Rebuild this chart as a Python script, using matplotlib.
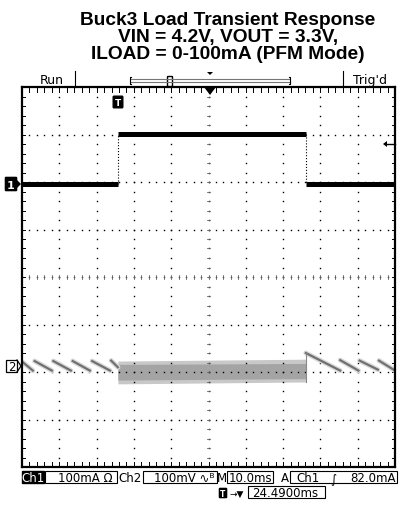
import matplotlib.pyplot as plt
from matplotlib.patches import FancyBboxPatch, Rectangle, Polygon

# ---- data read from the scope shot ----
# time axis: 10 ms/div, 10 divisions
ch1_edge_ms = [0, 25.7, 76.1, 100]
ch1_level_ma = [0, 105, 0]
ch1_ref_div = 1.96          # Ch1 ground marker (div above centre), 100 mA/div

ch2_ref_div = -1.87         # Ch2 marker, 100 mV/div, AC coupled
# sawtooth ramps of Ch2 (light load, PFM pulses)
ramp_t0 = [0.3, 3.4, 8.4, 13.6, 18.8, 23.9, 76.1, 85.3, 90.5, 95.7]
ramp_t1 = [2.9, 8.0, 13.1, 18.2, 23.6, 25.7, 85.3, 90.2, 95.4, 100]
ramp_v0 = [7, 10, 10, 10, 10, 11, 27, 12, 11, 11]
ramp_v1 = [-10, -10, -10, -10, -10, -3, -10, -10, -8, -10]
# ripple band while loaded (mV)
band_t = [25.7, 76.1]
band_hi = [10, 14]
band_lo = [-38, -34]
core_hi = [3, 5]
core_lo = [-30, -27]

title_lines = ["Buck3 Load Transient Response",
               "VIN = 4.2V, VOUT = 3.3V,",
               "ILOAD = 0-100mA (PFM Mode)"]

fig = plt.figure(figsize=(3.99, 5.06), dpi=100)
ax = fig.add_axes([22/399, (506-468)/506, 373/399, 380/506])
ax.set_xlim(0, 100)
ax.set_ylim(-4, 4)
ax.set_xticks([])
ax.set_yticks([])
for s in ax.spines.values():
    s.set_linewidth(1.6)

# graticule dots
minor_x = [i*2 for i in range(51)]
minor_y = [-4 + i*0.2 for i in range(41)]
for gx in range(10, 100, 10):
    ax.plot([gx]*len(minor_y), minor_y, ls="none", marker="s", ms=1.0, color="black", mew=0)
for gy in range(-3, 4):
    ax.plot(minor_x, [gy]*len(minor_x), ls="none", marker="s", ms=1.0, color="black", mew=0)
# centre cross ticks and border ticks
for mx in minor_x:
    ax.plot([mx, mx], [-0.05, 0.05], color="#666666", lw=0.6)
    ax.plot([mx, mx], [4, 3.9], color="black", lw=0.7)
    ax.plot([mx, mx], [-4, -3.9], color="black", lw=0.7)
for my in minor_y:
    ax.plot([49.7, 50.3], [my, my], color="#666666", lw=0.6)
    ax.plot([0, 0.9], [my, my], color="black", lw=0.7)
    ax.plot([99.1, 100], [my, my], color="black", lw=0.7)

# Ch1 : load current
for i in range(len(ch1_level_ma)):
    y = ch1_ref_div + ch1_level_ma[i]/100
    ax.plot([ch1_edge_ms[i], ch1_edge_ms[i+1]], [y, y], color="black", lw=3.6, solid_capstyle="butt")
for i in range(1, len(ch1_edge_ms)-1):
    ax.plot([ch1_edge_ms[i]]*2, [ch1_ref_div + ch1_level_ma[i-1]/100, ch1_ref_div + ch1_level_ma[i]/100],
            color="black", lw=0.8, ls=":")

# Ch2 : output voltage ripple
def v2y(v):
    return ch2_ref_div + v/100

ax.fill_between(band_t, [v2y(v) for v in band_lo], [v2y(v) for v in band_hi], color="#c8c8c8", lw=0)
ax.fill_between(band_t, [v2y(v) for v in core_lo], [v2y(v) for v in core_hi], color="#a4a4a4", lw=0)
for t0, t1, v0, v1 in zip(ramp_t0, ramp_t1, ramp_v0, ramp_v1):
    ax.plot([t0, t1], [v2y(v0), v2y(v1)], color="#dadada", lw=3.6, solid_capstyle="round")
for t0, t1, v0, v1 in zip(ramp_t0, ramp_t1, ramp_v0, ramp_v1):
    ax.plot([t0, t1], [v2y(v0), v2y(v1)], color="#707070", lw=1.6)
ax.plot([band_t[1]]*2, [v2y(band_lo[1]), v2y(ramp_v0[6])], color="#888888", lw=0.8)

# ---- overlay in pixel coordinates for scope annotations ----
ov = fig.add_axes([0, 0, 1, 1])
ov.set_xlim(0, 399)
ov.set_ylim(506, 0)
ov.axis("off")

for i, line in enumerate(title_lines):
    ov.text(228, 25 + i*17, line, ha="center", va="baseline", fontsize=13.8,
            fontweight="bold", family=["Liberation Sans", "DejaVu Sans"])

scope_font = ["Liberation Sans Narrow", "DejaVu Sans"]
ov.text(52, 84, "Run", ha="center", va="baseline", fontsize=9, family=scope_font)
ov.text(370, 84, "Trig'd", ha="center", va="baseline", fontsize=9, family=scope_font)
ov.plot([75, 75], [72, 88], color="black", lw=0.8)
ov.plot([343, 343], [72, 88], color="black", lw=0.8)
# record-length bracket
ov.plot([130, 290], [80, 80], color="#777777", lw=0.8)
ov.plot([130, 290], [83, 83], color="#777777", lw=0.8)
ov.plot([131, 130, 130, 131], [78, 78, 85, 85], color="black", lw=0.8)
ov.plot([289, 290, 290, 289], [78, 78, 85, 85], color="black", lw=0.8)
ov.add_patch(FancyBboxPatch((168, 78), 4, 9, boxstyle="round,pad=0.5", fc="white", ec="black", lw=1))
ov.add_patch(Polygon([[207, 73], [213, 73], [210, 76]], closed=True, fc="black", ec="none"))
# trigger position marker on top of screen
ov.add_patch(Polygon([[204, 88], [216, 88], [210, 96]], closed=True, fc="black", ec="none"))
# trigger T marker
ov.add_patch(FancyBboxPatch((114, 98), 8, 10, boxstyle="round,pad=0.8", fc="black", ec="black"))
ov.text(118, 103.5, "T", color="white", ha="center", va="center", fontsize=6.5, fontweight="bold")
# trigger level arrow on right
ov.plot([387, 395], [145, 145], color="black", lw=1)
ov.add_patch(Polygon([[387, 142], [387, 148], [383, 145]], closed=True, fc="black", ec="none"))

# channel reference markers
ov.add_patch(FancyBboxPatch((6, 179), 10, 12, boxstyle="round,pad=0.6", fc="black", ec="black"))
ov.add_patch(Polygon([[16, 180], [21, 185], [16, 190]], closed=True, fc="black", ec="none"))
ov.text(11, 185.5, "1", color="white", ha="center", va="center", fontsize=8, fontweight="bold")
ov.add_patch(Rectangle((6, 361), 11, 12, fc="white", ec="black", lw=0.9))
ov.plot([17, 21, 17], [361, 367, 373], color="black", lw=0.9)
ov.text(11.5, 367.5, "2", color="black", ha="center", va="center", fontsize=8.5, family=scope_font)

# status bar
fs = 8.5
ov.add_patch(Rectangle((22, 472), 22, 12, fc="black", ec="black"))
ov.text(33, 482, "Ch1", color="white", ha="center", va="baseline", fontsize=fs, family=scope_font)
ov.add_patch(Rectangle((45, 472), 72, 12, fc="none", ec="black", lw=0.8))
ov.text(113, 482, "100mA \u03a9", ha="right", va="baseline", fontsize=fs, family=scope_font)
ov.text(130, 482, "Ch2", ha="center", va="baseline", fontsize=fs, family=scope_font)
ov.add_patch(Rectangle((143, 472), 74, 12, fc="none", ec="black", lw=0.8))
ov.text(215, 482, "100mV \u223f\u1d2e", ha="right", va="baseline", fontsize=fs, family=scope_font)
ov.text(222, 482, "M", ha="center", va="baseline", fontsize=fs, family=scope_font)
ov.add_patch(Rectangle((227, 472), 46, 12, fc="none", ec="black", lw=0.8))
ov.text(250, 482, "10.0ms", ha="center", va="baseline", fontsize=fs, family=scope_font)
ov.text(285, 482, "A", ha="center", va="baseline", fontsize=fs, family=scope_font)
ov.add_patch(Rectangle((290, 472), 107, 12, fc="none", ec="black", lw=0.8))
ov.text(296, 482, "Ch1", ha="left", va="baseline", fontsize=fs, family=scope_font)
ov.text(333, 482, "\u222b", ha="center", va="baseline", fontsize=fs, family=["DejaVu Sans"])
ov.text(396, 482, "82.0mA", ha="right", va="baseline", fontsize=fs, family=scope_font)
ov.add_patch(FancyBboxPatch((220, 490), 6, 8, boxstyle="round,pad=0.6", fc="black", ec="black"))
ov.text(223, 494.5, "T", color="white", ha="center", va="center", fontsize=5.5, fontweight="bold")
ov.text(237, 497, "\u2192\u25bc", ha="center", va="baseline", fontsize=6.5, family=["DejaVu Sans"])
ov.add_patch(Rectangle((248, 487), 77, 12, fc="none", ec="black", lw=0.8))
ov.text(252, 497, "24.4900ms", ha="left", va="baseline", fontsize=fs, family=scope_font)

fig.savefig("out.png", dpi=100)
